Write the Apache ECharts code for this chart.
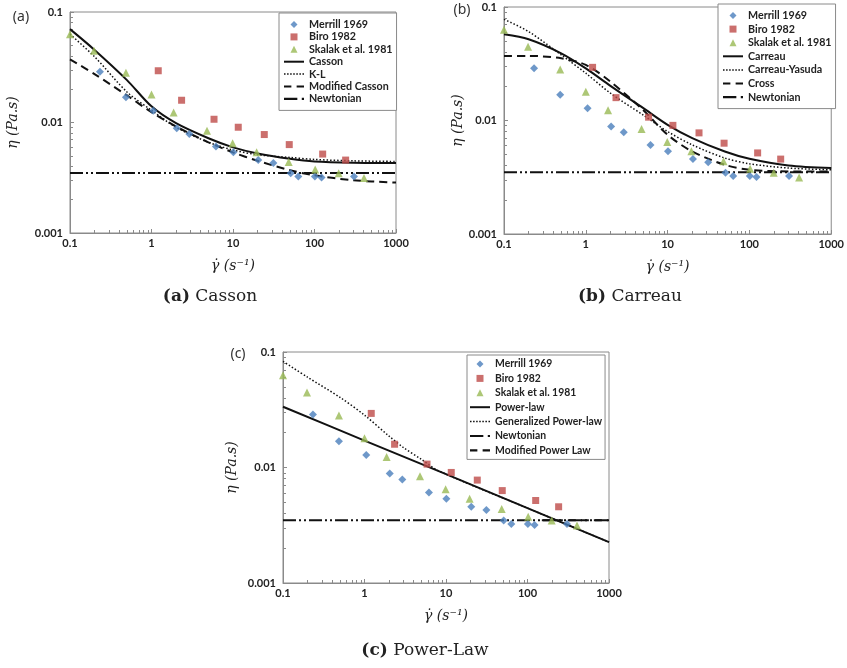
<!DOCTYPE html>
<html><head><meta charset="utf-8">
<script src="https://cdn.jsdelivr.net/npm/echarts@6/dist/echarts.min.js"></script>
<style>html,body{margin:0;padding:0;background:#fff}#c{width:847px;height:668px}</style>
</head><body><div id="c"></div>
<script>
// ---- measured data (shared by all panels) ----
const merrillX = [0.233, 0.486, 1.05, 2.04, 2.91, 6.18, 10.1, 20.4, 31.3, 51, 63.3, 101, 122, 305];
const merrillY = [0.0288, 0.0169, 0.0128, 0.00887, 0.00788, 0.00608, 0.00537, 0.00457, 0.00429, 0.00347, 0.00324, 0.00324, 0.00318, 0.00324];
const biroX = [1.21, 2.34, 5.85, 11.6, 24.2, 49, 126, 241];
const biroY = [0.0294, 0.0159, 0.0107, 0.00906, 0.00778, 0.00631, 0.00518, 0.00457];
const skalakX = [0.1, 0.197, 0.486, 1.0, 1.87, 4.8, 9.9, 19.5, 48.2, 102, 198, 405];
const skalakY = [0.063, 0.0447, 0.0282, 0.0179, 0.0123, 0.0084, 0.00648, 0.00537, 0.00438, 0.00375, 0.00347, 0.00315];

// ---- model curves ----
const curveX = [0.1, 0.2, 0.5, 1, 2, 5, 10, 20, 50, 100, 300, 1000];
const cassonY = [0.070, 0.0454, 0.0242, 0.0140, 0.00986, 0.0072, 0.00596, 0.00525, 0.0047, 0.00444, 0.00432, 0.00429];
const klY = [0.063, 0.0394, 0.0189, 0.0129, 0.00906, 0.00662, 0.00564, 0.00511, 0.00483, 0.00463, 0.0045, 0.00444];
const modCassonY = [0.0373, 0.0274, 0.0176, 0.0124, 0.0092, 0.00662, 0.00536, 0.0045, 0.0037, 0.00333, 0.0030, 0.00286];
const carreauY = [0.0575, 0.052, 0.0391, 0.0288, 0.0202, 0.0129, 0.00916, 0.0070, 0.00533, 0.0046, 0.00402, 0.00381];
const yasudaY = [0.0779, 0.0607, 0.0379, 0.0261, 0.0174, 0.0112, 0.0080, 0.0061, 0.00467, 0.00416, 0.00381, 0.00368];
const crossY = [0.0371, 0.0371, 0.0353, 0.0309, 0.0220, 0.0124, 0.00748, 0.00533, 0.00407, 0.00368, 0.00356, 0.00356];
const powerX = [0.1, 1, 10, 100, 1000];
const powerY = [0.0336, 0.0171, 0.00875, 0.00445, 0.00226];
const genPowerX = [0.1, 0.2, 0.5, 1, 2, 3, 5, 8, 100, 1000];
const genPowerY = [0.083, 0.0605, 0.0405, 0.0284, 0.0187, 0.0149, 0.01175, 0.0094, 0.00445, 0.00226];
const newtonX = [0.1, 1000];
const newtonY = [0.0035, 0.0035];
const modPowerX = [150, 1000];
const modPowerY = [0.0035, 0.0035];

const captions = ['Casson', 'Carreau', 'Power-Law'];
const panelTags = ['(a)', '(b)', '(c)'];
const legendNames = [
  ['Merrill 1969', 'Biro 1982', 'Skalak et al. 1981', 'Casson', 'K-L', 'Modified Casson', 'Newtonian'],
  ['Merrill 1969', 'Biro 1982', 'Skalak et al. 1981', 'Carreau', 'Carreau-Yasuda', 'Cross', 'Newtonian'],
  ['Merrill 1969', 'Biro 1982', 'Skalak et al. 1981', 'Power-law', 'Generalized Power-law', 'Newtonian', 'Modified Power Law']
];

const zip = (xs, ys) => xs.map((x, i) => [x, ys[i]]);

const grids = [
  {left: 70, top: 12, width: 326, height: 221},
  {left: 504, top: 7, width: 329, height: 227},
  {left: 283, top: 352, width: 326, height: 231}
];
const yNameGap = [50, 38, 44];
const legendPos = [
  {left: 279, top: 13, itemGap: 1.4, padding: [6, 4, 6, 5]},
  {left: 718, top: 4, itemGap: 2.6, padding: [6, 4, 6, 5]},
  {left: 467, top: 355, itemGap: 4.4, padding: [4, 3, 4, 3]}
];

const AX = '#8a8a8a';
const tickFont = {fontFamily: 'Lato', fontWeight: 'bold', fontSize: 11, color: '#222'};
const fmt = v => String(parseFloat(Number(v).toPrecision(6)));

// legend icon shapes
let dots = '';
for (let k = 0; k < 7; k++) dots += 'M' + (k * 3) + ',0h1.5v1.5h-1.5z ';
const ICON = {
  solid: 'path://M0,0h20v2h-20z',
  dotted: 'path://' + dots,
  dashed: 'path://M0,0h7v2h-7zM12,0h7v2h-7z',
  newt: 'path://M0,0h12v2h-12zM16,0h2v2h-2z',
  diamond: 'path://M3,0L6,3L3,6L0,3Z',
  square: 'path://M0,0h6v6h-6z',
  triangle: 'path://M3,0L6,6L0,6Z'
};
const iconOf = {
  'Merrill 1969': ICON.diamond, 'Biro 1982': ICON.square, 'Skalak et al. 1981': ICON.triangle,
  'Casson': ICON.solid, 'Carreau': ICON.solid, 'Power-law': ICON.solid,
  'K-L': ICON.dotted, 'Carreau-Yasuda': ICON.dotted, 'Generalized Power-law': ICON.dotted,
  'Modified Casson': ICON.dashed, 'Cross': ICON.dashed, 'Modified Power Law': ICON.dashed,
  'Newtonian': ICON.newt
};

const xAxis = [], yAxis = [], legend = [], series = [];
grids.forEach((g, i) => {
  xAxis.push({
    type: 'log', logBase: 10, min: 0.1, max: 1000, gridIndex: i,
    name: 'γ̇ (s⁻¹)', nameLocation: 'middle', nameGap: 26,
    nameTextStyle: {fontFamily: 'DejaVu Serif', fontStyle: 'italic', fontSize: 14, color: '#222'},
    axisLine: {show: true, lineStyle: {color: AX, width: 1}},
    axisTick: {show: true, inside: true, length: 4, lineStyle: {color: AX}},
    minorTick: {show: true, splitNumber: 9, length: 3, lineStyle: {color: AX}},
    splitLine: {show: false},
    axisLabel: Object.assign({formatter: fmt, margin: 5}, tickFont)
  });
  yAxis.push({
    type: 'log', logBase: 10, min: 0.001, max: 0.1, gridIndex: i,
    name: 'η (Pa.s)', nameLocation: 'middle', nameGap: yNameGap[i], nameRotate: 90,
    nameTextStyle: {fontFamily: 'DejaVu Serif', fontStyle: 'italic', fontSize: 14, color: '#222'},
    axisLine: {show: true, lineStyle: {color: AX, width: 1}},
    axisTick: {show: true, inside: true, length: 4, lineStyle: {color: AX}},
    minorTick: {show: true, splitNumber: 9, length: 3, lineStyle: {color: AX}},
    splitLine: {show: false},
    axisLabel: Object.assign({formatter: fmt, margin: 7}, tickFont)
  });
  legend.push(Object.assign({
    orient: 'vertical',
    data: legendNames[i].map(n => ({name: n, icon: iconOf[n]})),
    backgroundColor: '#fff', borderColor: '#8a8a8a', borderWidth: 1,
    itemWidth: 20, itemHeight: 7,
    textStyle: {fontFamily: 'Lato', fontWeight: 'bold', fontSize: i === 2 ? 10.4 : 10.7, color: '#222'},
    selectedMode: false
  }, legendPos[i]));
});

const BLUE = '#4A7EBB', RED = '#BE4B48', GREEN = '#98B954', BLK = '#111';
const scatter = (name, sym, size, color, xs, ys, i) => ({
  type: 'scatter', name, symbol: sym, symbolSize: size, xAxisIndex: i, yAxisIndex: i,
  itemStyle: {color}, data: zip(xs, ys), z: 3
});
const line = (name, type, width, xs, ys, i, smooth) => ({
  type: 'line', name, xAxisIndex: i, yAxisIndex: i, symbol: 'none', smooth: smooth ? 0.3 : false,
  lineStyle: {color: BLK, width, type}, itemStyle: {color: BLK}, data: zip(xs, ys), z: 2
});
const NEWT = [13, 3, 2, 3, 2, 3];
for (let i = 0; i < 3; i++) {
  series.push(scatter('Merrill 1969', 'diamond', 8, BLUE, merrillX, merrillY, i));
  series.push(scatter('Biro 1982', 'rect', 7, RED, biroX, biroY, i));
  series.push(scatter('Skalak et al. 1981', 'triangle', 8, GREEN, skalakX, skalakY, i));
}
series.push(line('Casson', 'solid', 2, curveX, cassonY, 0, true));
series.push(line('K-L', [1.5, 2], 1.5, curveX, klY, 0, true));
series.push(line('Modified Casson', [8, 5], 2, curveX, modCassonY, 0, true));
series.push(line('Newtonian', NEWT, 2, newtonX, newtonY, 0, false));
series.push(line('Carreau', 'solid', 2, curveX, carreauY, 1, true));
series.push(line('Carreau-Yasuda', [1.5, 2], 1.5, curveX, yasudaY, 1, true));
series.push(line('Cross', [8, 5], 2, curveX, crossY, 1, true));
series.push(line('Newtonian', NEWT, 2, newtonX, newtonY, 1, false));
series.push(line('Power-law', 'solid', 2, powerX, powerY, 2, true));
series.push(line('Generalized Power-law', [1.5, 2], 1.5, genPowerX, genPowerY, 2, true));
series.push(line('Modified Power Law', [8, 5], 2, modPowerX, modPowerY, 2, false));
series.push(line('Newtonian', NEWT, 2, newtonX, newtonY, 2, false));

const tagPos = [[21, 17], [462, 10], [238, 354]];
const capPos = [[210, 297], [630, 297], [425, 651]];
const graphic = [];
for (let i = 0; i < 3; i++) {
  graphic.push({type: 'text', x: tagPos[i][0], y: tagPos[i][1],
    style: {text: panelTags[i], fill: '#333', font: '14px "Noto Sans"', align: 'center', verticalAlign: 'middle'}});
  graphic.push({type: 'text', x: capPos[i][0], y: capPos[i][1],
    style: {text: '{b|' + panelTags[i] + '} ' + captions[i], fill: '#222', align: 'center', verticalAlign: 'middle',
      font: '17px "DejaVu Serif"',
      rich: {b: {fontWeight: 'bold', fontSize: 17, fontFamily: 'DejaVu Serif', fill: '#222'}}}});
}

const chart = echarts.init(document.getElementById('c'), null, {renderer: 'canvas'});
chart.setOption({
  animation: false,
  backgroundColor: '#fff',
  grid: grids.map(g => Object.assign({show: true, borderColor: AX, borderWidth: 1, backgroundColor: 'transparent', containLabel: false}, g)),
  xAxis, yAxis, legend, series, graphic
});
</script></body></html>
